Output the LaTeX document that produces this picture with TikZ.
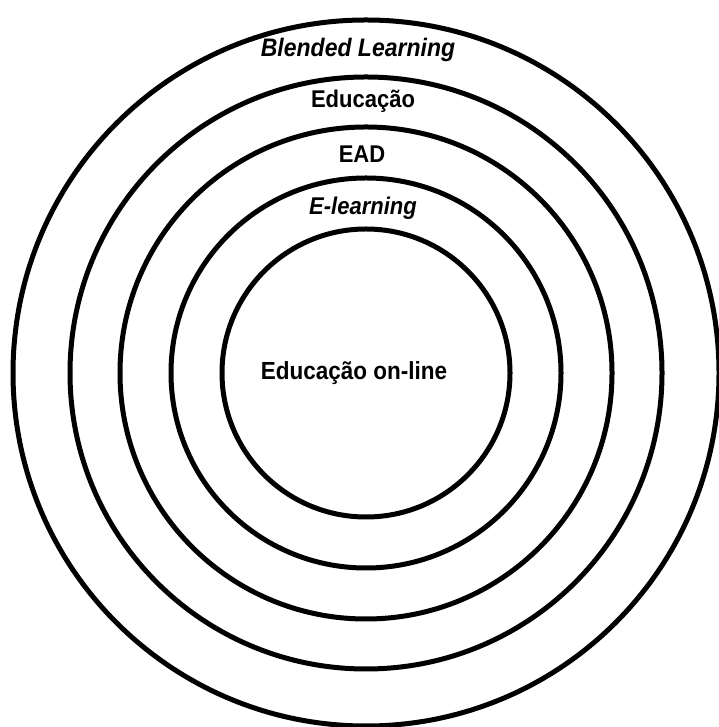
\documentclass[tikz,border=0pt]{standalone}
\usepackage{fontspec}
\setmainfont{Liberation Sans}
\tikzset{
  ring/.style={line width=5pt},
  rotulo/.style={font=\fontsize{22}{26}\selectfont\bfseries, inner sep=1pt, yscale=1.1}
}
\begin{document}
\begin{tikzpicture}[x=1pt,y=1pt]
        % área da figura
        \useasboundingbox (0,0) rectangle (718,727);
        \fill[white] (0,0) rectangle (718,727);
        % centro comum
        \coordinate (C) at (366,354);
        % círculos
        \draw[ring] (C) circle[radius=353];
        \draw[ring] (C) circle[radius=296];
        \draw[ring] (C) circle[radius=246];
        \draw[ring] (C) circle[radius=195];
        \draw[ring] (C) circle[radius=144];
        % rótulos
        \node[rotulo, font=\fontsize{23}{27}\selectfont\bfseries\itshape] (BL) at (358,677) {Blended Learning};
        \node[rotulo] (Ed) at (363,626) {Educação};
        \node[rotulo] (EAD) at (362,573) {EAD};
        \node[rotulo] (EL) at (363,519) {\itshape E-learning};
        \node[rotulo, font=\fontsize{22.5}{27}\selectfont\bfseries] (EO) at (354,354) {Educação on-line};
    \end{tikzpicture}
\end{document}
